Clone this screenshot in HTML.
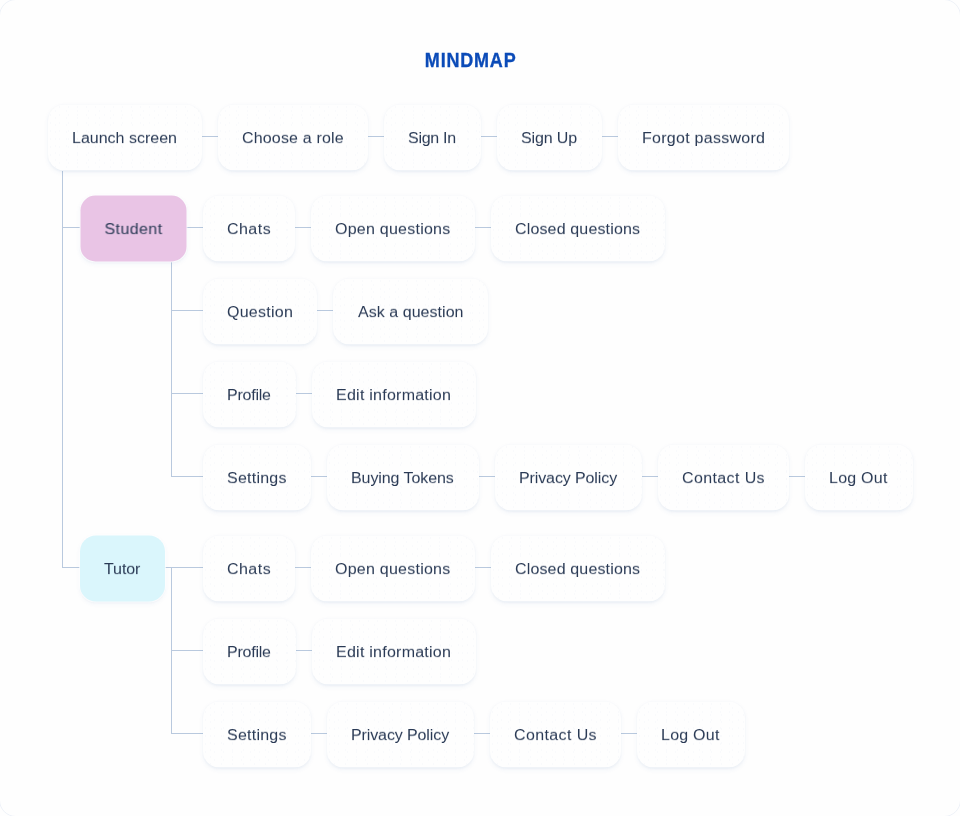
<!DOCTYPE html>
<html lang="en">
<head>
<meta charset="utf-8">
<meta name="viewport" content="width=960">
<title>Mindmap</title>
<style>
*{box-sizing:border-box;margin:0;padding:0}
html,body{width:960px;height:816px;overflow:hidden;background:#fefefe}
body{font-family:"Liberation Sans",Arial,Helvetica,sans-serif;color:#2a3a55;position:relative}
.card{position:absolute;left:0;top:0;width:960px;height:816px;background:#fefefe;overflow:hidden}
.frame{position:absolute;left:-1px;top:-1px;width:962px;height:818px;border:1px solid #eef2f8;border-radius:17px}
h1{position:absolute;left:0;width:941px;top:49px;text-align:center;font-size:18px;line-height:22px;font-weight:700;color:#0b4bb8;letter-spacing:0.8px;text-indent:0.3px;-webkit-text-stroke:0.3px #0b4bb8;transform:translateY(0.5px) scale(1,1.08);transform-origin:50% 50%;will-change:transform}
.n{position:absolute;height:66px;border-radius:16px;background:radial-gradient(circle at 2.5px 2.5px,#f4f6fa 0.6px,transparent 1px) 0 0/9px 8px,radial-gradient(circle at 7.5px 6.5px,#f4f6fa 0.6px,transparent 1px) 0 0/11px 7px,#fefefe;box-shadow:0 2px 5px rgba(30,85,160,.055),0 1px 2px rgba(30,85,160,.04);font-size:16px;line-height:20px;white-space:nowrap;transform:translateY(0.5px)}
.n.pink{background:#e9c4e5;border-radius:15px;box-shadow:0 0 0 1px rgba(255,255,255,.7),0 2px 5px rgba(30,85,160,.055),0 1px 2px rgba(30,85,160,.04);transform:translate(0.5px,0.5px)}
.n.cyan{background:#daf6fc;box-shadow:0 0 0 1px rgba(255,255,255,.7),0 2px 5px rgba(30,85,160,.055),0 1px 2px rgba(30,85,160,.04)}
.n span{position:absolute;top:24px;height:20px;display:block;transform:scale(1,0.93);transform-origin:0 50%;will-change:transform}
.l{position:absolute;background:#b9c9de}
</style>
</head>
<body>
<div class="card">
<div class="frame"></div>
<h1>MINDMAP</h1>
<i class="l" style="left:62px;top:171px;width:1px;height:397px"></i>
<i class="l" style="left:62px;top:227px;width:18px;height:1px"></i>
<i class="l" style="left:62px;top:567px;width:18px;height:1px"></i>
<i class="l" style="left:171px;top:262px;width:1px;height:215px"></i>
<i class="l" style="left:171px;top:568px;width:1px;height:166px"></i>
<i class="l" style="left:202px;top:136px;width:16px;height:1px"></i>
<i class="l" style="left:368px;top:136px;width:16px;height:1px"></i>
<i class="l" style="left:481px;top:136px;width:16px;height:1px"></i>
<i class="l" style="left:602px;top:136px;width:16px;height:1px"></i>
<i class="l" style="left:186px;top:227px;width:17px;height:1px"></i>
<i class="l" style="left:295px;top:227px;width:16px;height:1px"></i>
<i class="l" style="left:475px;top:227px;width:16px;height:1px"></i>
<i class="l" style="left:317px;top:310px;width:16px;height:1px"></i>
<i class="l" style="left:296px;top:393px;width:16px;height:1px"></i>
<i class="l" style="left:311px;top:476px;width:16px;height:1px"></i>
<i class="l" style="left:479px;top:476px;width:16px;height:1px"></i>
<i class="l" style="left:642px;top:476px;width:16px;height:1px"></i>
<i class="l" style="left:789px;top:476px;width:16px;height:1px"></i>
<i class="l" style="left:165px;top:567px;width:38px;height:1px"></i>
<i class="l" style="left:295px;top:567px;width:16px;height:1px"></i>
<i class="l" style="left:475px;top:567px;width:16px;height:1px"></i>
<i class="l" style="left:296px;top:650px;width:16px;height:1px"></i>
<i class="l" style="left:311px;top:733px;width:16px;height:1px"></i>
<i class="l" style="left:474px;top:733px;width:16px;height:1px"></i>
<i class="l" style="left:621px;top:733px;width:16px;height:1px"></i>
<i class="l" style="left:171px;top:310px;width:32px;height:1px"></i>
<i class="l" style="left:171px;top:393px;width:32px;height:1px"></i>
<i class="l" style="left:171px;top:476px;width:32px;height:1px"></i>
<i class="l" style="left:171px;top:650px;width:32px;height:1px"></i>
<i class="l" style="left:171px;top:733px;width:32px;height:1px"></i>
<div class="n" style="left:48px;top:104px;width:154px"><span style="left:24.00px">Launch screen</span></div>
<div class="n" style="left:218px;top:104px;width:150px"><span style="left:24.00px;letter-spacing:0.17px">Choose a role</span></div>
<div class="n" style="left:384px;top:104px;width:97px"><span style="left:24.00px;letter-spacing:-0.29px">Sign In</span></div>
<div class="n" style="left:497px;top:104px;width:105px"><span style="left:24.00px;letter-spacing:-0.12px">Sign Up</span></div>
<div class="n" style="left:618px;top:104px;width:171px"><span style="left:24.00px;letter-spacing:0.27px">Forgot password</span></div>
<div class="n pink" style="left:80px;top:195px;width:106px"><span style="left:24.00px;letter-spacing:0.41px">Student</span></div>
<div class="n" style="left:203px;top:195px;width:92px"><span style="left:24.00px;letter-spacing:0.46px">Chats</span></div>
<div class="n" style="left:311px;top:195px;width:164px"><span style="left:24.00px;letter-spacing:0.24px">Open questions</span></div>
<div class="n" style="left:491px;top:195px;width:174px"><span style="left:24.00px;letter-spacing:0.15px">Closed questions</span></div>
<div class="n" style="left:203px;top:278px;width:114px"><span style="left:24.00px;letter-spacing:0.25px">Question</span></div>
<div class="n" style="left:333px;top:278px;width:155px"><span style="left:25.00px;letter-spacing:0.04px">Ask a question</span></div>
<div class="n" style="left:203px;top:361px;width:93px"><span style="left:24.00px;letter-spacing:-0.24px">Profile</span></div>
<div class="n" style="left:312px;top:361px;width:164px"><span style="left:24.00px;letter-spacing:0.25px">Edit information</span></div>
<div class="n" style="left:203px;top:444px;width:108px"><span style="left:24.00px;letter-spacing:0.23px">Settings</span></div>
<div class="n" style="left:327px;top:444px;width:152px"><span style="left:24.00px;letter-spacing:-0.08px">Buying Tokens</span></div>
<div class="n" style="left:495px;top:444px;width:147px"><span style="left:24.00px;letter-spacing:-0.11px">Privacy Policy</span></div>
<div class="n" style="left:658px;top:444px;width:131px"><span style="left:24.00px;letter-spacing:0.38px">Contact Us</span></div>
<div class="n" style="left:805px;top:444px;width:108px"><span style="left:24.00px;letter-spacing:0.24px">Log Out</span></div>
<div class="n cyan" style="left:80px;top:535px;width:85px"><span style="left:24.00px;letter-spacing:-0.10px">Tutor</span></div>
<div class="n" style="left:203px;top:535px;width:92px"><span style="left:24.00px;letter-spacing:0.46px">Chats</span></div>
<div class="n" style="left:311px;top:535px;width:164px"><span style="left:24.00px;letter-spacing:0.24px">Open questions</span></div>
<div class="n" style="left:491px;top:535px;width:174px"><span style="left:24.00px;letter-spacing:0.15px">Closed questions</span></div>
<div class="n" style="left:203px;top:618px;width:93px"><span style="left:24.00px;letter-spacing:-0.24px">Profile</span></div>
<div class="n" style="left:312px;top:618px;width:164px"><span style="left:24.00px;letter-spacing:0.25px">Edit information</span></div>
<div class="n" style="left:203px;top:701px;width:108px"><span style="left:24.00px;letter-spacing:0.23px">Settings</span></div>
<div class="n" style="left:327px;top:701px;width:147px"><span style="left:24.00px;letter-spacing:-0.11px">Privacy Policy</span></div>
<div class="n" style="left:490px;top:701px;width:131px"><span style="left:24.00px;letter-spacing:0.38px">Contact Us</span></div>
<div class="n" style="left:637px;top:701px;width:108px"><span style="left:24.00px;letter-spacing:0.24px">Log Out</span></div>
</div>
</body>
</html>
